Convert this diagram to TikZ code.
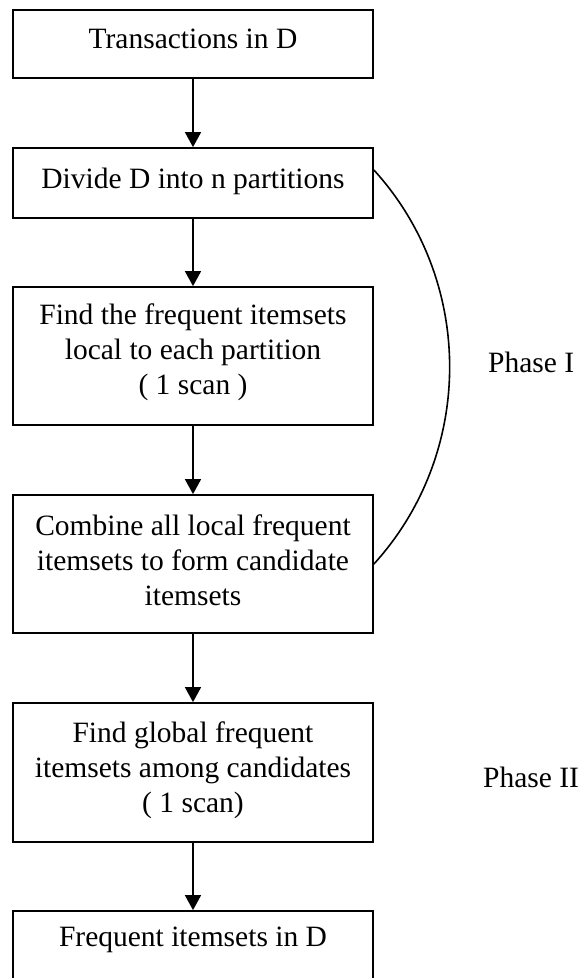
\documentclass[tikz,border=0pt]{standalone}
\usepackage{fontspec}
\setmainfont{Liberation Serif}
\usetikzlibrary{arrows.meta}
% invisible strut that adds depth below the last line of a box
\newcommand{\lift}[1]{\rule[-#1]{0pt}{0pt}}

\begin{document}
\begin{tikzpicture}[x=1pt,y=1pt,
  stage/.style={draw, line width=1.8pt, minimum width=360pt, inner sep=0pt,
    align=center, font=\fontsize{29.5}{35}\selectfont},
  flow/.style={line width=1.7pt, -{Triangle[width=16pt,length=15pt]}},
  bracket/.style={line width=1.6pt},
  phase/.style={font=\fontsize{29.5}{35}\selectfont, anchor=base west, inner sep=0pt}]
\useasboundingbox (0,0) rectangle (582,-978);

% process steps
\node[stage, minimum height=68pt]  (trans) at (193,-44)    {Transactions in D\lift{10pt}};
\node[stage, minimum height=70pt]  (div)   at (193,-183)   {Divide D into n partitions\lift{10pt}};
\node[stage, minimum height=138pt] (local) at (193,-356)   {Find the frequent itemsets\\local to each partition\\( 1 scan )\lift{13pt}};
\node[stage, minimum height=138pt] (comb)  at (193,-564)   {Combine all local frequent\\itemsets to form candidate\\itemsets\lift{8pt}};
\node[stage, minimum height=139pt] (glob)  at (193,-772.5) {Find global frequent\\itemsets among candidates\\( 1 scan)\lift{11pt}};
\node[stage, minimum height=68pt]  (res)   at (193,-945)   {Frequent itemsets in D\lift{16pt}};

% flow between steps
\draw[flow] (trans.south) -- (div.north);
\draw[flow] (div.south)   -- (local.north);
\draw[flow] (local.south) -- (comb.north);
\draw[flow] (comb.south)  -- (glob.north);
\draw[flow] (glob.south)  -- (res.north);

% bracket grouping the first phase
\draw[bracket] ([yshift=13]div.east)
  .. controls ([shift={(101,-98)}]div.east) and ([shift={(101,111)}]comb.east) .. (comb.east);

% phase labels
\node[phase] (p1) at (488,-372) {Phase I};
\node[phase] (p2) at (483,-787) {Phase II};
\end{tikzpicture}
\end{document}
